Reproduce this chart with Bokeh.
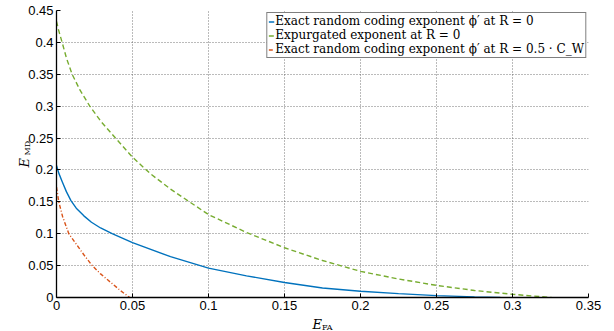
import math
from bokeh.plotting import figure
from bokeh.models import Range1d, FixedTicker, Legend, LegendItem, Label
from bokeh.embed import file_html
from bokeh.resources import INLINE

# ---- tick values / labels ----
x_ticks = [0, 0.05, 0.1, 0.15, 0.2, 0.25, 0.3, 0.35]
x_tick_labels = ["0", "0.05", "0.1", "0.15", "0.2", "0.25", "0.3", "0.35"]
y_ticks = [0, 0.05, 0.1, 0.15, 0.2, 0.25, 0.3, 0.35, 0.4, 0.45]
y_tick_labels = ["0", "0.05", "0.1", "0.15", "0.2", "0.25", "0.3", "0.35", "0.4", "0.45"]

# ---- series ----
exact_r0_efa = [0, 0.0015, 0.0037, 0.0065, 0.0095, 0.013, 0.018, 0.023, 0.029, 0.0366,
                0.05, 0.075, 0.1, 0.125, 0.15, 0.175, 0.2, 0.225, 0.25, 0.275, 0.292]
exact_r0_emd = [0.207, 0.195, 0.182, 0.166, 0.152, 0.14, 0.128, 0.118, 0.109, 0.1,
                0.086, 0.064, 0.046, 0.034, 0.0235, 0.015, 0.0099, 0.006, 0.003, 0.001, 0.0]

expurg_efa = [0, 0.0013, 0.0037, 0.0066, 0.0103, 0.0155, 0.0219, 0.0296, 0.0388, 0.05,
              0.0618, 0.075, 0.1, 0.125, 0.15, 0.175, 0.2, 0.225, 0.25, 0.275, 0.3, 0.3257]
expurg_emd = [0.433, 0.42, 0.4, 0.375, 0.35, 0.325, 0.3, 0.275, 0.25, 0.22,
              0.194, 0.17, 0.13, 0.102, 0.078, 0.058, 0.041, 0.029, 0.019, 0.011, 0.005, 0.0]

exact_half_efa = [0, 0.0015, 0.004, 0.0081, 0.0132, 0.018, 0.0235, 0.029, 0.034,
                  0.042, 0.0482]
exact_half_emd = [0.173, 0.15, 0.127, 0.1, 0.083, 0.067, 0.05, 0.037, 0.027,
                  0.011, 0.0]

legend_labels = [
    "Exact random coding exponent \u03d5\u2032 at R = 0",
    "Expurgated exponent at R = 0",
    "Exact random coding exponent \u03d5\u2032 at R = 0.5 \u00b7 C_W",
]

p = figure(width=614, height=331, output_backend="svg", toolbar_location=None,
           x_range=Range1d(0, 0.35), y_range=Range1d(0, 0.45),
           min_border_left=56, min_border_right=26, min_border_top=10,
           min_border_bottom=34, background_fill_color="white",
           border_fill_color="white")
p.outline_line_color = None

for ax, ticks, labels in ((p.xaxis, x_ticks, x_tick_labels), (p.yaxis, y_ticks, y_tick_labels)):
    ax.ticker = FixedTicker(ticks=ticks)
    ax.major_label_overrides = {t: l for t, l in zip(ticks, labels)}
    ax.major_tick_in = 4
    ax.major_tick_out = 0
    ax.minor_tick_line_color = None
    ax.axis_line_color = "black"
    ax.axis_line_width = 1.3
    ax.major_tick_line_color = "black"
    ax.major_label_text_font = "Liberation Sans"
    ax.major_label_text_font_size = "13px"
    ax.major_label_text_color = "black"
p.xaxis.major_label_standoff = 3
p.yaxis.major_label_standoff = 3

for g in (p.xgrid, p.ygrid):
    g.grid_line_color = "#555555"
    g.grid_line_dash = "1 2"
    g.grid_line_width = 1
    g.grid_line_alpha = 0.8

r1 = p.line(exact_r0_efa, exact_r0_emd, line_color="#0072BD", line_width=1.4)
r2 = p.line(expurg_efa, expurg_emd, line_color="#77AC30", line_width=1.4, line_dash="5 3")
r3 = p.line(exact_half_efa, exact_half_emd, line_color="#D95319", line_width=1.4,
            line_dash="4 2 1 2")

legend = Legend(items=[LegendItem(label=legend_labels[0], renderers=[r1]),
                       LegendItem(label=legend_labels[1], renderers=[r2]),
                       LegendItem(label=legend_labels[2], renderers=[r3])],
                location="top_right", border_line_color="black", border_line_width=1,
                background_fill_color="white", background_fill_alpha=1,
                label_text_font="DejaVu Serif", label_text_font_size="12px",
                label_text_color="black",
                glyph_width=6, glyph_height=13, label_height=13, padding=1,
                spacing=0, label_standoff=1, margin=2)
p.add_layout(legend)

# axis titles as real text (E with subscript); placed in side panels so that
# they are not clipped to the frame, positioned in canvas pixels.
try:
    from bokeh.core.enums import CoordinateUnits
    units = "canvas" if "canvas" in CoordinateUnits else "screen"
except Exception:
    units = "screen"

def lab(x, y, text, size, italic=False, angle=0.0):
    return Label(x=x, y=y, x_units=units, y_units=units, text=text,
                 text_font="DejaVu Serif", text_font_style="italic" if italic else "normal",
                 text_font_size=size, angle=angle, text_baseline="alphabetic",
                 text_align="left", text_color="black")

p.add_layout(lab(312, 324, "E", "13px", italic=True), "right")
p.add_layout(lab(321.5, 327, "FA", "8px"), "right")
p.add_layout(lab(24, 167, "E", "13px", italic=True, angle=math.pi / 2), "left")
p.add_layout(lab(27, 155, "MD", "8px", angle=math.pi / 2), "left")

open("out.html", "w").write(file_html(p, INLINE))
